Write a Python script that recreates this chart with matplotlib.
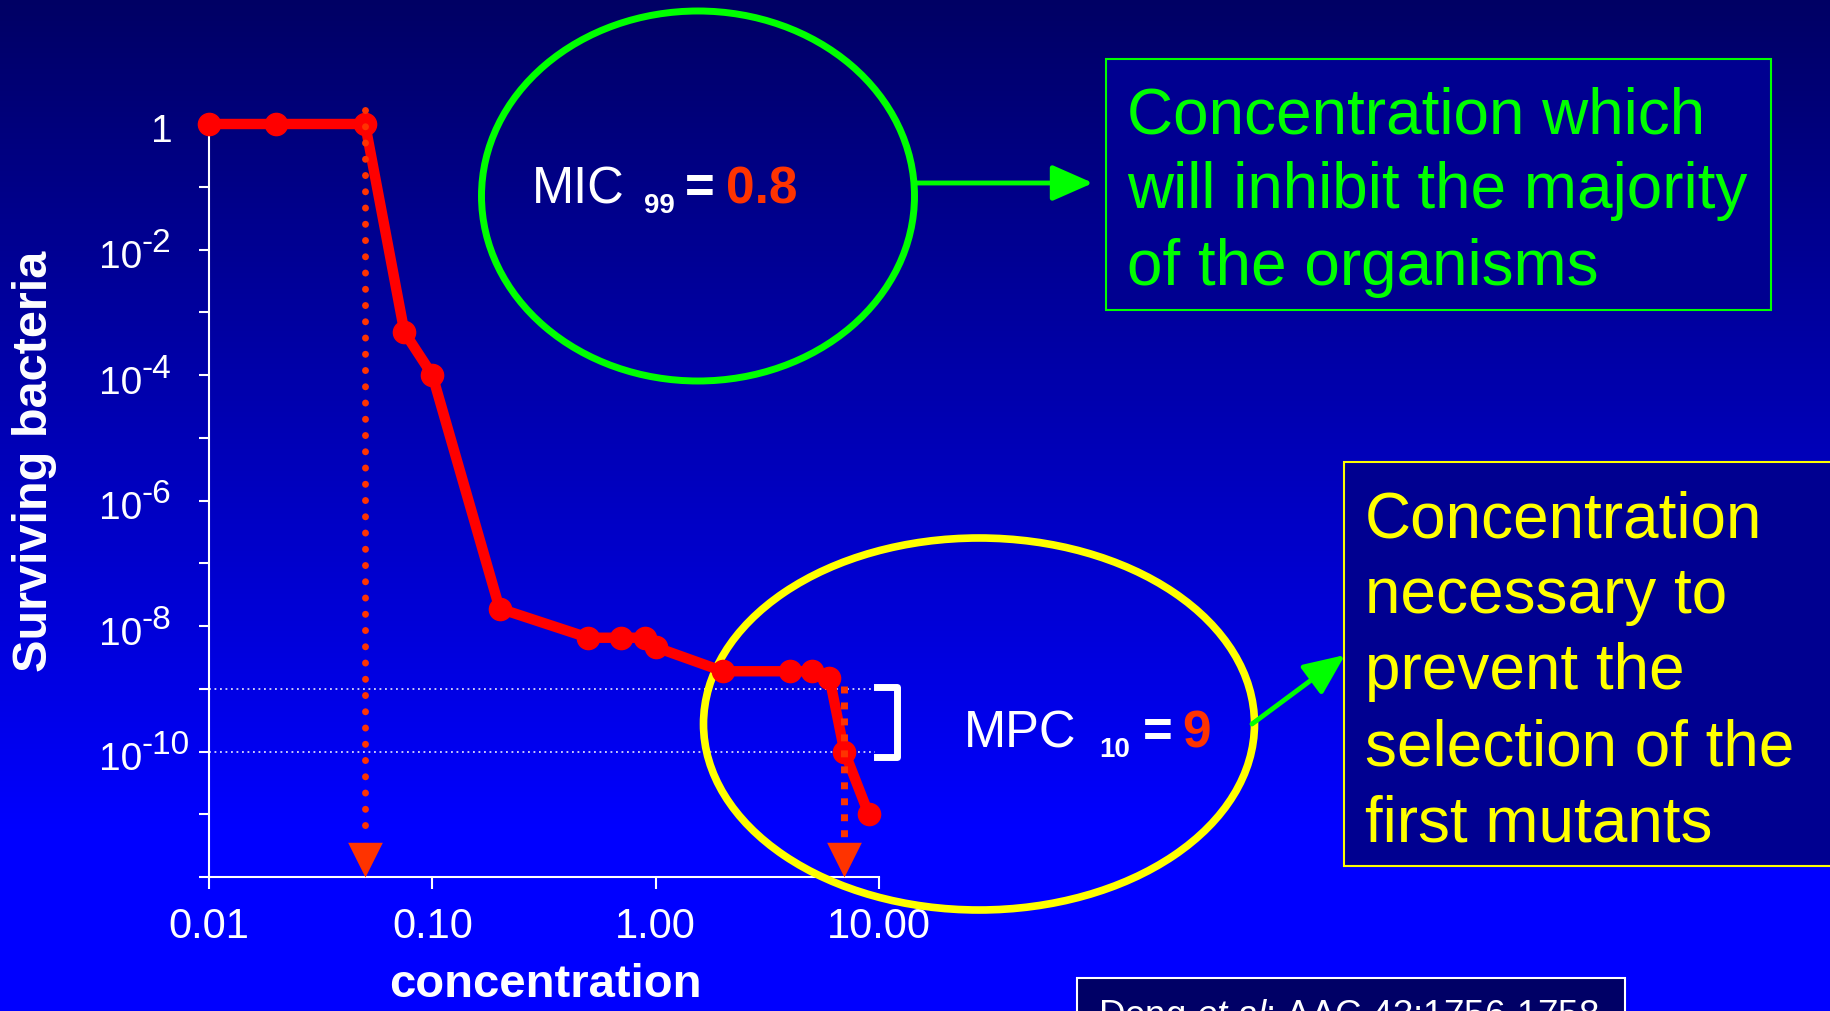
import matplotlib
matplotlib.use("Agg")
import matplotlib.pyplot as plt
import numpy as np
from matplotlib import transforms
from matplotlib.patches import Ellipse, Rectangle
from matplotlib.ticker import NullLocator, NullFormatter

plt.rcParams['font.family'] = ['Liberation Sans', 'DejaVu Sans']
plt.rcParams['mathtext.fontset'] = 'custom'
plt.rcParams['mathtext.rm'] = 'Liberation Sans'
plt.rcParams['mathtext.it'] = 'Liberation Sans:italic'

# kill curve: surviving fraction vs concentration
concentration = [0.01, 0.02, 0.05, 0.075, 0.1, 0.2, 0.5, 0.7, 0.9, 1.0,
                 2.0, 4.0, 5.0, 6.0, 7.0, 9.0]
surviving = [1, 1, 1, 4.8e-4, 1e-4, 1.9e-8, 6.5e-9, 6.5e-9, 6.5e-9, 4.6e-9,
             1.9e-9, 1.9e-9, 1.9e-9, 1.5e-9, 1e-10, 1e-11]

x_ticks = [0.01, 0.1, 1, 10]
x_tick_labels = ['0.01', '0.10', '1.00', '10.00']
y_tick_exponents = list(range(-12, 1))
y_label_exponents = [0, -2, -4, -6, -8, -10]

mic_drop_x = 0.05
mic_drop_top = 1.7
mpc_drop_x = 7.0
mpc_drop_top = 1.1e-9
drop_bottom = 4e-12
mpc_band = [1e-9, 1e-10]
band_end_x = 9.6

GREEN = '#00FF00'
YELLOW = '#FFFF00'
ORANGE = '#FF3300'

W, H = 1831, 1012
fig = plt.figure(figsize=(W / 100, H / 100), dpi=100)
# pixel coordinates, origin top-left
pix = transforms.Affine2D().scale(0.01, -0.01).translate(0, H / 100) + fig.dpi_scale_trans

# background gradient
bg = fig.add_axes([0, 0, 1, 1], zorder=-5)
blue = np.clip(100 + np.arange(H) * 155 / 830, 0, 255) / 255
grad = np.zeros((H, 1, 3))
grad[:, 0, 2] = blue
bg.imshow(grad, aspect='auto', extent=[0, 1, 0, 1])
bg.axis('off')

ax = fig.add_axes([209 / W, 1 - 878 / H, 670 / W, 753 / H])
ax.set_facecolor('none')
ax.set_xscale('log')
ax.set_yscale('log')
ax.set_xlim(0.01, 10)
ax.set_ylim(1e-12, 1)
for s in ['top', 'right']:
    ax.spines[s].set_visible(False)
for s in ['left', 'bottom']:
    ax.spines[s].set_color('white')
    ax.spines[s].set_linewidth(1.5)

ax.set_xticks(x_ticks)
ax.set_xticklabels(x_tick_labels)
ax.xaxis.set_minor_locator(NullLocator())
ax.set_yticks([10.0 ** e for e in y_tick_exponents])
ax.yaxis.set_minor_locator(NullLocator())
ax.yaxis.set_major_formatter(NullFormatter())
ax.tick_params(axis='x', colors='white', labelsize=30, length=8.6, width=1.5, pad=12)
ax.tick_params(axis='y', colors='white', length=7.2, width=1.5)

# y tick labels like 10^-2 with big superscripts
ytr = ax.get_yaxis_transform()
for e in y_label_exponents:
    v = 10.0 ** e
    if e == 0:
        ax.text(0, v, '1', transform=transforms.offset_copy(ytr, fig, x=-36, y=-17, units='dots'),
                ha='right', va='baseline', fontsize=28, color='white')
    else:
        ax.text(0, v, '10', transform=transforms.offset_copy(ytr, fig, x=-110, y=-18, units='dots'),
                ha='left', va='baseline', fontsize=28, color='white')
        ax.text(0, v, '-' + str(-e), transform=transforms.offset_copy(ytr, fig, x=-67, y=-2, units='dots'),
                ha='left', va='baseline', fontsize=24, color='white')

# reference levels for MPC
for lvl in mpc_band:
    ax.plot([0.01, band_end_x], [lvl, lvl], color='white', lw=1.1, ls=(0, (1.2, 2.4)), zorder=3)

ax.plot(concentration, surviving, color='red', lw=7.5, marker='o', ms=16,
        clip_on=False, zorder=4)

# dotted drop arrows
tri = [(-0.5, 1), (0.5, 1), (0, 0)]
ax.plot([mic_drop_x, mic_drop_x], [mic_drop_top, drop_bottom], color=ORANGE, lw=5,
        ls=(0, (0.01, 2.33)), dash_capstyle='round', clip_on=False, zorder=5)
ax.plot([mpc_drop_x, mpc_drop_x], [mpc_drop_top, drop_bottom], color=ORANGE, lw=5,
        ls=(0, (1, 1.3)), dash_capstyle='butt', clip_on=False, zorder=5)
ax.plot([mic_drop_x, mpc_drop_x], [1e-12, 1e-12], ls='none', marker=tri, ms=50,
        color=ORANGE, mec='none', clip_on=False, zorder=5)

# bracket
ax.plot([877, 897, 897, 877], [688, 688, 758, 758], transform=pix, color='white', lw=5,
        solid_joinstyle='round', clip_on=False, zorder=3)

# ellipses
ax.add_patch(Ellipse((698, 197), 433, 370, transform=pix, fill=False, ec=GREEN, lw=5,
                     clip_on=False, zorder=3))
ax.add_patch(Ellipse((979, 725), 551, 372, transform=pix, fill=False, ec=YELLOW, lw=5.5,
                     clip_on=False, zorder=3))

# boxes
ax.add_patch(Rectangle((1106, 60), 665, 251, transform=pix, fc='#000090', ec=GREEN, lw=1.5,
                       clip_on=False, zorder=1))
ax.add_patch(Rectangle((1344, 463), 520, 404, transform=pix, fc='#000090', ec=YELLOW, lw=1.5,
                       clip_on=False, zorder=1))
ax.add_patch(Rectangle((1077, 979), 548, 60, transform=pix, fc='#000066', ec='white', lw=1.5,
                       clip_on=False, zorder=1))

arrow_style = dict(arrowstyle='-|>,head_length=1.25,head_width=0.55', color=GREEN, lw=3.5,
                   shrinkA=0, shrinkB=0, mutation_scale=20)
ax.annotate('', xy=(1093, 184), xytext=(915, 184), xycoords=pix, textcoords=pix,
            arrowprops=arrow_style, annotation_clip=False)
ax.annotate('', xy=(1345, 656), xytext=(1252, 725), xycoords=pix, textcoords=pix,
            arrowprops=arrow_style, annotation_clip=False)

green_lines = ['Concentration which', 'will inhibit the majority', 'of the organisms']
for txt, yb in zip(green_lines, [133, 208, 285]):
    ax.text(1127, yb, txt, transform=pix, color=GREEN, fontsize=46, ha='left', va='baseline')

yellow_lines = ['Concentration', 'necessary to', 'prevent the', 'selection of the', 'first mutants']
for txt, yb in zip(yellow_lines, [537, 613, 689, 765, 842]):
    ax.text(1365, yb, txt, transform=pix, color=YELLOW, fontsize=46, ha='left', va='baseline')

# MIC / MPC labels
ax.text(532, 203, 'MIC', transform=pix, color='white', fontsize=36.5, va='baseline')
ax.text(644, 213, '99', transform=pix, color='white', fontsize=20, weight='bold', va='baseline')
ax.text(685, 203, '=', transform=pix, color='white', fontsize=36.5, weight='bold', va='baseline')
ax.text(726, 203, '0.8', transform=pix, color=ORANGE, fontsize=37, weight='bold', va='baseline')

ax.text(964, 747, 'MPC', transform=pix, color='white', fontsize=36.5, va='baseline')
ax.text(1099, 757, '10', transform=pix, color='white', fontsize=20, weight='bold', va='baseline')
ax.text(1143, 747, '=', transform=pix, color='white', fontsize=36.5, weight='bold', va='baseline')
ax.text(1182, 747, '9', transform=pix, color=ORANGE, fontsize=37, weight='bold', va='baseline')

# axis titles
ax.text(35, 461, 'Surviving bacteria', transform=pix, color='white', fontsize=35, weight='bold',
        rotation=90, ha='center', va='center')
ax.text(545, 997, 'concentration', transform=pix, color='white', fontsize=34, weight='bold',
        ha='center', va='baseline')

# citation box, partly below the bottom edge as in the slide
ax.text(1098, 1026, r'Deng $\mathit{et\ al}$: AAC 43:1756-1758', transform=pix, color='white',
        fontsize=26.5, ha='left', va='baseline')

plt.savefig('out.png', dpi=100)
